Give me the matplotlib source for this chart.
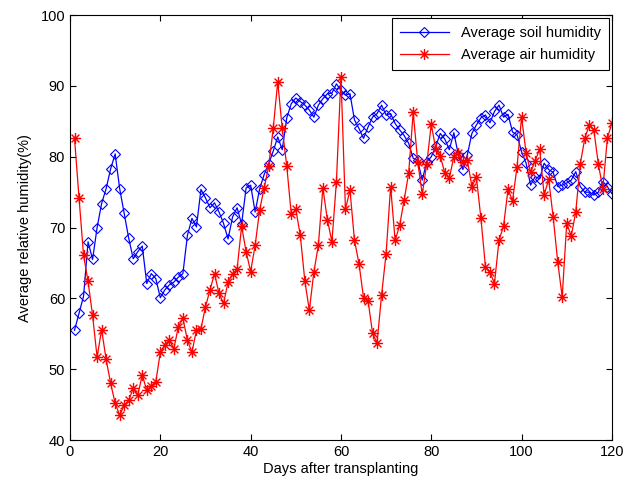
import numpy as np
import matplotlib
matplotlib.use("Agg")
import matplotlib.pyplot as plt
from matplotlib.path import Path

plt.rcParams['font.family'] = ['Liberation Sans', 'DejaVu Sans']

days = list(range(1, 121))

soil_humidity = [
    55.5, 57.9, 60.3, 68.0, 65.5, 70.0, 73.4, 75.5, 78.3, 80.4,
    75.5, 72.0, 68.5, 65.6, 66.6, 67.4, 62.1, 63.5, 62.8, 60.1,
    61.2, 61.9, 62.3, 63.0, 63.5, 68.9, 71.3, 70.1, 75.4, 74.2,
    72.8, 73.5, 72.2, 70.6, 68.4, 71.5, 72.8, 70.5, 75.6, 76.0,
    72.2, 75.5, 77.5, 79.0, 80.8, 82.8, 81.0, 85.5, 87.5, 88.3,
    87.8, 87.3, 86.6, 85.6, 87.3, 88.2, 88.9, 89.0, 90.3, 89.4,
    88.7, 88.9, 85.2, 84.0, 82.6, 84.2, 85.6, 86.1, 87.3, 85.9,
    86.1, 84.7, 83.8, 83.0, 81.9, 79.8, 79.5, 76.7, 79.3, 80.0,
    81.5, 83.3, 82.5, 81.0, 83.4, 80.3, 78.2, 80.3, 83.3, 84.5,
    85.5, 85.9, 84.8, 86.4, 87.3, 85.6, 86.0, 83.5, 83.1, 80.7,
    79.1, 76.0, 77.2, 76.9, 79.1, 78.2, 77.8, 75.8, 76.0, 76.3,
    76.7, 77.9, 75.8, 75.0, 75.0, 74.6, 75.0, 76.5, 75.8, 74.8,
]

air_humidity = [
    82.6, 74.2, 66.1, 62.4, 57.6, 51.7, 55.6, 51.4, 48.0, 45.2,
    43.5, 44.9, 45.6, 47.3, 46.3, 49.2, 47.0, 47.7, 48.2, 52.4,
    53.4, 54.1, 52.9, 56.0, 57.2, 54.1, 52.4, 55.5, 55.7, 58.8,
    61.2, 63.5, 60.7, 59.3, 62.3, 63.5, 64.1, 70.2, 66.6, 63.8,
    67.5, 72.5, 75.6, 78.7, 84.0, 90.6, 84.0, 78.7, 71.9, 72.6,
    68.9, 62.5, 58.3, 63.7, 67.5, 75.6, 71.1, 68.0, 76.5, 91.3,
    72.6, 75.3, 68.2, 64.9, 60.1, 59.7, 55.1, 53.7, 60.5, 66.3,
    75.8, 68.2, 70.3, 73.9, 77.7, 86.3, 79.3, 74.7, 79.0, 84.6,
    81.1, 80.1, 77.7, 77.0, 80.0, 80.6, 79.2, 79.5, 75.8, 77.1,
    71.3, 64.5, 63.7, 62.1, 68.2, 70.2, 75.4, 73.8, 78.6, 85.6,
    80.6, 77.8, 79.4, 81.1, 74.6, 76.8, 71.5, 65.2, 60.2, 70.6,
    68.8, 72.2, 79.0, 82.6, 84.5, 83.8, 79.0, 75.5, 82.6, 84.8,
]

x_ticks = [0, 20, 40, 60, 80, 100, 120]
y_ticks = [40, 50, 60, 70, 80, 90, 100]

# eight-armed asterisk marker (plus + cross)
c = np.cos(np.pi / 4)
asterisk = Path(
    [(-1, 0), (1, 0), (0, -1), (0, 1), (-c, -c), (c, c), (-c, c), (c, -c)],
    [Path.MOVETO, Path.LINETO] * 4,
)

fig = plt.figure(figsize=(6.25, 4.9), dpi=100)
ax = fig.add_axes([0.112, 0.102, 0.867, 0.867])

ax.plot(days, soil_humidity, color='blue', linewidth=0.9, marker='D',
        markersize=5.5, markerfacecolor='none', markeredgecolor='blue',
        markeredgewidth=0.8, label='Average soil humidity')
ax.plot(days, air_humidity, color='red', linewidth=0.9, marker=asterisk,
        markersize=8, markerfacecolor='none', markeredgecolor='red',
        markeredgewidth=1.0, label='Average air humidity')

ax.set_xlim(0, 120)
ax.set_ylim(40, 100)
ax.set_xticks(x_ticks)
ax.set_yticks(y_ticks)
ax.tick_params(direction='in', top=True, right=True, labelsize=10.5,
               length=4, width=0.8)
for s in ax.spines.values():
    s.set_linewidth(0.8)
    s.set_color('black')

ax.set_xlabel('Days after transplanting', fontsize=10.5, labelpad=2)
ax.set_ylabel('Average relative humidity(%)', fontsize=10.5, labelpad=6)

leg = ax.legend(loc='upper right', fontsize=10.5, fancybox=False,
                edgecolor='black', framealpha=1, handlelength=3.4,
                handletextpad=0.8, borderaxespad=0.2, borderpad=0.55,
                labelspacing=0.55)
leg.get_frame().set_linewidth(0.8)

fig.savefig('out.png', dpi=100)
